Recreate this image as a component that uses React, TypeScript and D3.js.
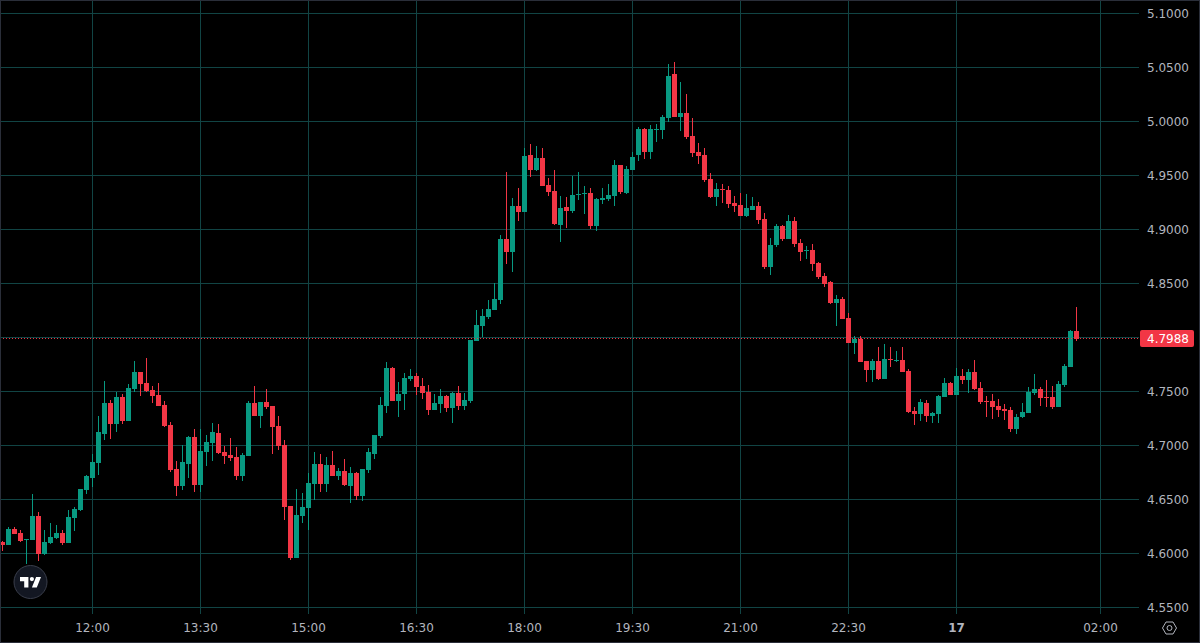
import React from "react";
import * as d3 from "d3";

const highs = [
  4.6116,4.6245,4.6245,4.6218,4.6134,4.6551,4.6384,4.6218,4.6282,4.6264,
  4.6218,4.6403,4.6431,4.6597,4.6727,4.6921,4.7273,4.7597,4.7421,4.7495,
  4.7477,4.7569,4.7782,4.7681,4.7810,4.7551,4.7579,4.7412,4.7218,4.6856,
  4.7005,4.7088,4.7153,4.7153,4.7097,4.7208,4.7199,4.6995,4.7069,4.6986,
  4.6930,4.7412,4.7551,4.7403,4.7523,4.7366,4.7273,4.7051,4.6440,4.6597,
  4.6560,4.6745,4.6940,4.6921,4.6894,4.6949,4.6792,4.6875,4.6801,4.6755,
  4.6782,4.6977,4.7097,4.7449,4.7773,4.7727,4.7588,4.7671,4.7708,4.7671,
  4.7625,4.7560,4.7477,4.7523,4.7468,4.7495,4.7551,4.7486,4.7977,4.8255,
  4.8264,4.8347,4.8505,4.8949,4.9532,4.9292,4.9384,4.9755,4.9792,4.9773,
  4.9755,4.9477,4.9551,4.9310,4.9301,4.9495,4.9532,4.9403,4.9384,4.9292,
  4.9384,4.9421,4.9644,4.9597,4.9588,4.9718,4.9949,4.9940,4.9968,4.9977,
  5.0060,5.0532,5.0551,5.0366,5.0255,5.0032,4.9801,4.9755,4.9523,4.9431,
  4.9421,4.9403,4.9310,4.9338,4.9329,4.9301,4.9255,4.9153,4.8921,4.9051,
  4.9042,4.9134,4.9116,4.8912,4.8847,4.8866,4.8699,4.8597,4.8523,4.8394,
  4.8375,4.8227,4.8014,4.8014,4.7782,4.7801,4.7912,4.7940,4.7912,4.7875,
  4.7912,4.7708,4.7357,4.7431,4.7421,4.7310,4.7468,4.7625,4.7588,4.7718,
  4.7708,4.7708,4.7792,4.7588,4.7458,4.7477,4.7431,4.7384,4.7357,4.7292,
  4.7394,4.7542,4.7662,4.7542,4.7606,4.7551,4.7597,4.7755,4.8069,4.8282,
];

const lows = [
  4.6023,4.6079,4.6181,4.6106,4.5903,4.6125,4.5931,4.5986,4.6088,4.6134,
  4.6079,4.6097,4.6208,4.6394,4.6551,4.6616,4.6727,4.7051,4.7060,4.7125,
  4.7199,4.7227,4.7495,4.7458,4.7495,4.7394,4.7366,4.7171,4.6755,4.6532,
  4.6588,4.6699,4.6569,4.6569,4.6810,4.6856,4.6921,4.6829,4.6856,4.6681,
  4.6671,4.6903,4.7273,4.7162,4.7338,4.6921,4.6958,4.6310,4.5940,4.5958,
  4.6282,4.6218,4.6495,4.6569,4.6569,4.6718,4.6681,4.6625,4.6468,4.6495,
  4.6486,4.6745,4.6875,4.7069,4.7301,4.7412,4.7264,4.7329,4.7597,4.7468,
  4.7431,4.7282,4.7329,4.7301,4.7310,4.7208,4.7329,4.7329,4.7394,4.7968,
  4.8005,4.8171,4.8255,4.8310,4.8681,4.8606,4.9079,4.9162,4.9486,4.9542,
  4.9403,4.9310,4.9042,4.8884,4.9014,4.9153,4.9273,4.9144,4.9005,4.8986,
  4.9236,4.9264,4.9218,4.9329,4.9329,4.9551,4.9634,4.9653,4.9653,4.9810,
  4.9838,4.9995,5.0042,4.9912,4.9838,4.9671,4.9606,4.9440,4.9292,4.9218,
  4.9245,4.9199,4.9162,4.9125,4.9116,4.9181,4.9051,4.8634,4.8579,4.8838,
  4.8894,4.8912,4.8838,4.8708,4.8727,4.8616,4.8542,4.8468,4.8310,4.8106,
  4.8171,4.7949,4.7847,4.7773,4.7588,4.7588,4.7606,4.7616,4.7727,4.7773,
  4.7681,4.7301,4.7190,4.7227,4.7218,4.7208,4.7208,4.7449,4.7468,4.7468,
  4.7569,4.7486,4.7514,4.7384,4.7264,4.7245,4.7264,4.7236,4.7125,4.7106,
  4.7255,4.7301,4.7468,4.7366,4.7357,4.7338,4.7357,4.7542,4.7727,4.7968,
];

const opens = [
  4.6106,4.6079,4.6227,4.6190,4.6125,4.6125,4.6347,4.5995,4.6097,4.6144,
  4.6190,4.6097,4.6329,4.6403,4.6588,4.6699,4.6838,4.7106,4.7394,4.7199,
  4.7449,4.7227,4.7523,4.7681,4.7579,4.7514,4.7468,4.7375,4.7190,4.6782,
  4.6625,4.6829,4.7079,4.6634,4.6940,4.7023,4.7116,4.6940,4.6912,4.6894,
  4.6718,4.6903,4.7394,4.7273,4.7403,4.7366,4.7181,4.7005,4.6440,4.5958,
  4.6347,4.6421,4.6644,4.6829,4.6644,4.6819,4.6718,4.6764,4.6625,4.6745,
  4.6532,4.6773,4.6921,4.7088,4.7366,4.7718,4.7412,4.7477,4.7616,4.7644,
  4.7551,4.7495,4.7329,4.7384,4.7458,4.7347,4.7486,4.7366,4.7412,4.7968,
  4.8106,4.8190,4.8255,4.8347,4.8912,4.8792,4.9218,4.9162,4.9690,4.9551,
  4.9662,4.9412,4.9356,4.9042,4.9208,4.9171,4.9319,4.9329,4.9338,4.9032,
  4.9273,4.9282,4.9310,4.9597,4.9338,4.9551,4.9690,4.9931,4.9718,4.9921,
  4.9921,5.0032,5.0440,5.0042,5.0079,4.9866,4.9718,4.9690,4.9468,4.9301,
  4.9375,4.9366,4.9245,4.9227,4.9125,4.9181,4.9218,4.9097,4.8653,4.8856,
  4.9032,4.8912,4.9079,4.8875,4.8801,4.8810,4.8690,4.8569,4.8514,4.8319,
  4.8356,4.8181,4.7949,4.7986,4.7782,4.7699,4.7782,4.7616,4.7801,4.7782,
  4.7792,4.7690,4.7319,4.7292,4.7394,4.7273,4.7292,4.7449,4.7579,4.7468,
  4.7644,4.7606,4.7681,4.7532,4.7412,4.7412,4.7366,4.7338,4.7329,4.7153,
  4.7264,4.7301,4.7486,4.7523,4.7449,4.7449,4.7357,4.7560,4.7727,4.8060,
];

const closes = [
  4.6079,4.6227,4.6181,4.6116,4.6134,4.6347,4.5995,4.6106,4.6153,4.6190,
  4.6097,4.6338,4.6412,4.6597,4.6718,4.6847,4.7125,4.7394,4.7199,4.7449,
  4.7227,4.7532,4.7681,4.7569,4.7505,4.7458,4.7366,4.7181,4.6773,4.6625,
  4.6847,4.7079,4.6634,4.6949,4.7032,4.7125,4.6930,4.6903,4.6884,4.6718,
  4.6912,4.7394,4.7273,4.7403,4.7357,4.7171,4.6995,4.6431,4.5958,4.6356,
  4.6431,4.6653,4.6829,4.6644,4.6819,4.6718,4.6764,4.6634,4.6745,4.6532,
  4.6782,4.6940,4.7097,4.7375,4.7718,4.7412,4.7477,4.7625,4.7644,4.7542,
  4.7486,4.7329,4.7394,4.7458,4.7347,4.7486,4.7366,4.7421,4.7977,4.8116,
  4.8199,4.8264,4.8356,4.8912,4.8792,4.9218,4.9162,4.9681,4.9551,4.9662,
  4.9403,4.9347,4.9051,4.9199,4.9171,4.9319,4.9329,4.9338,4.9032,4.9282,
  4.9292,4.9319,4.9597,4.9347,4.9560,4.9671,4.9931,4.9718,4.9931,4.9931,
  5.0042,5.0421,5.0042,5.0079,4.9856,4.9708,4.9681,4.9458,4.9301,4.9375,
  4.9366,4.9236,4.9218,4.9125,4.9199,4.9218,4.9088,4.8653,4.8856,4.9032,
  4.8912,4.9079,4.8866,4.8792,4.8810,4.8681,4.8560,4.8495,4.8319,4.8356,
  4.8171,4.7949,4.7986,4.7773,4.7699,4.7782,4.7616,4.7801,4.7792,4.7792,
  4.7681,4.7310,4.7292,4.7403,4.7273,4.7301,4.7458,4.7579,4.7468,4.7644,
  4.7606,4.7681,4.7523,4.7403,4.7403,4.7357,4.7329,4.7319,4.7153,4.7264,
  4.7310,4.7495,4.7523,4.7440,4.7440,4.7357,4.7569,4.7736,4.8060,4.7988,
];

const priceTicks = [5.1, 5.05, 5.0, 4.95, 4.9, 4.85, 4.8, 4.75, 4.7, 4.65, 4.6, 4.55];
const timeTickBars = [15, 33, 51, 69, 87, 105, 123, 141, 159, 183];
const timeTickLabels = ["12:00", "13:30", "15:00", "16:30", "18:00", "19:30", "21:00", "22:30", "17", "02:00"];
const lastPrice = 4.7988;

const UP = "#089981";
const DOWN = "#f23645";
const GRID = "#114444";
const TEXT = "#b2b5be";
const FRAME = "#2a2e39";
const FONT = "'DejaVu Sans', sans-serif";

export default function App() {
  const x = d3.scaleLinear().domain([0, 183]).range([2.5, 1100.5]);
  const y = d3.scaleLinear().domain([4.55, 5.1]).range([607.5, 13.5]);
  const plotRight = 1139;

  return (
    <svg
      width={1200}
      height={643}
      viewBox="0 0 1200 643"
      style={{ position: "absolute", left: 0, top: 0, background: "#000", display: "block" }}
    >
      <rect x={0} y={0} width={1200} height={643} fill="#000" />

      <g stroke={GRID} strokeWidth={1}>
        {priceTicks.map((p) => (
          <line key={p} x1={1} x2={plotRight} y1={y(p)} y2={y(p)} />
        ))}
        {timeTickBars.map((b) => (
          <line key={b} x1={x(b)} x2={x(b)} y1={1} y2={614} />
        ))}
      </g>

      <g>
        {highs.map((h, i) => {
          const up = closes[i] >= opens[i];
          const color = up ? UP : DOWN;
          const cx = x(i);
          const top = Math.round(y(Math.max(opens[i], closes[i])));
          const bottom = Math.round(y(Math.min(opens[i], closes[i])));
          const wickTop = Math.round(y(h));
          const wickBottom = Math.round(y(lows[i]));
          return (
            <g key={i} fill={color}>
              <rect x={cx - 0.5} y={wickTop} width={1} height={Math.max(wickBottom - wickTop, 1)} />
              <rect x={cx - 2.5} y={top} width={5} height={Math.max(bottom - top, 1)} />
            </g>
          );
        })}
      </g>

      <line
        x1={0}
        x2={plotRight}
        y1={y(lastPrice) - 0.3}
        y2={y(lastPrice) - 0.3}
        stroke={DOWN}
        strokeWidth={1}
        strokeDasharray="1 2"
      />

      <g fontFamily={FONT} fontSize={12} fill={TEXT}>
        {priceTicks.map((p) => (
          <text key={p} x={1147} y={y(p) + 4.5}>
            {p.toFixed(4)}
          </text>
        ))}
        {timeTickBars.map((b, i) => (
          <text
            key={b}
            x={x(b)}
            y={632}
            textAnchor="middle"
            fontWeight={timeTickLabels[i] === "17" ? 700 : 400}
          >
            {timeTickLabels[i]}
          </text>
        ))}
      </g>

      <rect x={1140} y={330} width={54} height={17} rx={2} fill={DOWN} />
      <text x={1147} y={343} fontFamily={FONT} fontSize={12} fill="#fff">
        {lastPrice.toFixed(4)}
      </text>

      <g>
        <circle cx={30.5} cy={582} r={16.5} fill="#131722" stroke="#3a3e4b" strokeWidth={1} />
        <path
          transform="translate(18.6 572.8) scale(0.7)"
          fill="#fff"
          d="M14 6H2v6h6v9h6V6Zm12 15h-7l6-15h7l-6 15Zm-7-9a3 3 0 1 0 0-6 3 3 0 0 0 0 6Z"
        />
      </g>

      <g transform="translate(1169.5 628)" fill="none" stroke={TEXT} strokeWidth={1}>
        <path d="M-7 0 L-3.5 -6 L3.5 -6 L7 0 L3.5 6 L-3.5 6 Z" />
        <circle r={2.5} />
      </g>

      <rect x={0.5} y={0.5} width={1199} height={642} fill="none" stroke={FRAME} strokeWidth={1} />
    </svg>
  );
}
